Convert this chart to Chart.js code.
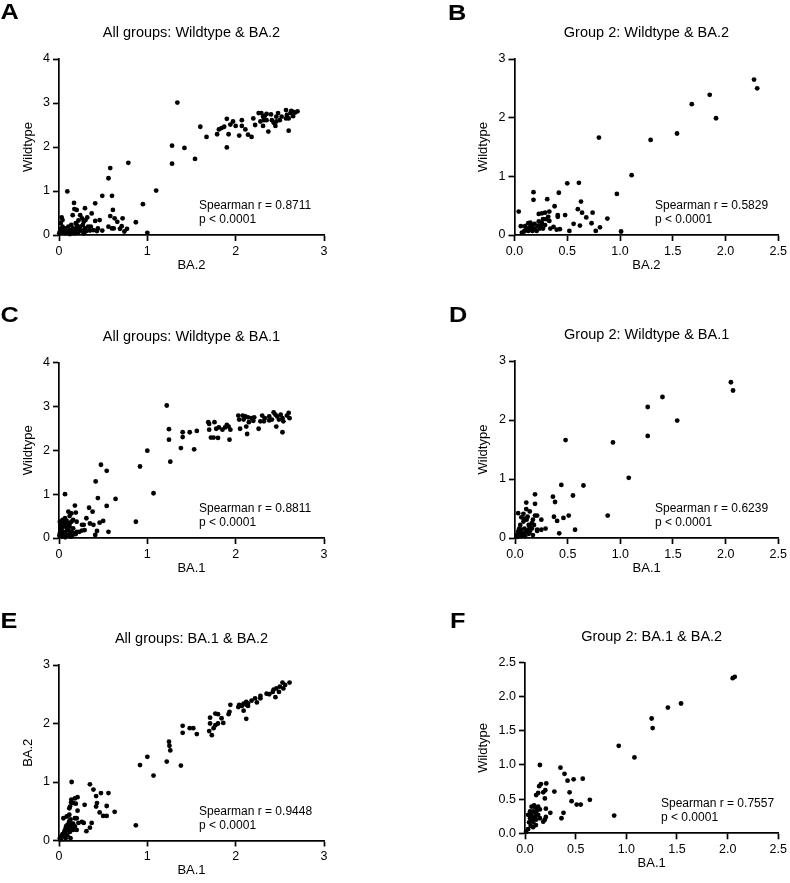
<!DOCTYPE html>
<html>
<head>
<meta charset="utf-8">
<script src="https://cdn.jsdelivr.net/npm/chart.js@4.4.1/dist/chart.umd.min.js"></script>
<style>
  body { margin: 0; background: #fff; }
  #wrap { position: relative; width: 790px; height: 883px; overflow: hidden; }
  #wrap canvas { position: absolute; }
</style>
</head>
<body>
<div id="wrap"></div>
<script>
// [x, y] pairs

// A: x = BA.2, y = Wildtype (all groups)
const allBa2Wt = [
  [1.34,3.01],[1.28,2.03],[1.28,1.62],[1.42,1.98],[1.54,1.73],[1.60,2.46],[1.67,2.23],[1.79,2.29],[1.81,2.40],[1.84,2.43],
  [1.87,2.46],[1.90,2.64],[1.90,1.99],[1.92,2.29],[1.94,2.51],[1.97,2.58],[2.00,2.48],[2.04,2.26],[2.07,2.61],[2.07,2.48],
  [2.11,2.40],[2.14,2.28],[2.18,2.23],[2.20,2.65],[2.22,2.50],[2.28,2.58],[2.29,2.77],[2.31,2.69],[2.33,2.71],[2.31,2.48],
  [2.35,2.61],[2.37,2.35],[2.40,2.74],[2.41,2.61],[2.35,2.75],[2.45,2.48],[2.46,2.69],[2.48,2.77],[2.50,2.61],[2.52,2.69],
  [2.57,2.84],[2.58,2.73],[2.60,2.37],[2.60,2.65],[2.62,2.77],[2.63,2.82],[2.65,2.70],[2.67,2.78],[2.70,2.81],[2.26,2.77],
  [2.43,2.55],[2.32,2.61],[2.57,2.65],[2.65,2.80],[2.46,2.58],
  [0.094,0.99],[0.17,0.73],[0.174,0.59],[0.20,0.57],[0.155,0.45],[0.03,0.40],[0.04,0.34],[0.02,0.27],[0.294,0.61],[0.24,0.45],
  [0.26,0.38],[0.28,0.30],[0.32,0.40],[0.30,0.34],[0.22,0.33],[0.19,0.27],[0.14,0.23],[0.106,0.19],[0.068,0.15],[0.05,0.11],
  [0.087,0.09],[0.13,0.11],[0.16,0.08],[0.20,0.14],[0.24,0.19],[0.26,0.10],[0.294,0.15],[0.31,0.09],[0.36,0.19],[0.37,0.49],
  [0.41,0.32],[0.41,0.72],[0.39,0.11],[0.43,0.09],[0.46,0.34],[0.49,0.10],[0.49,0.89],[0.011,0.08],[0.004,0.04],[0.03,0.05],
  [0.07,0.04],[0.12,0.02],[0.18,0.04],[0.22,0.06],[0.33,0.19],[0.35,0.10],[0.56,1.29],[0.58,1.52],[0.785,1.64],[0.60,0.89],
  [0.61,0.57],[0.58,0.43],[0.63,0.38],[0.66,0.30],[0.72,0.38],[0.71,0.20],[0.69,0.14],[0.62,0.15],[0.60,0.15],[0.56,0.19],
  [0.77,0.14],[0.74,0.08],[0.87,0.29],[0.95,0.70],[1.00,0.05],[1.10,1.01],[0.44,0.15],
  [0.02,0.14],[0.04,0.19],[0.06,0.08],[0.106,0.08],[0.14,0.04],[0.16,0.15],[0.20,0.23],[0.27,0.23],[0.23,0.11],[0.28,0.04],[0.18,0.09]
];

// B: x = BA.2, y = Wildtype (group 2)
const grp2Ba2Wt = [
  [2.27,2.65],[2.30,2.50],[1.85,2.39],[1.91,1.99],[1.68,2.23],[1.54,1.73],[1.29,1.62],[0.80,1.66],[1.11,1.02],[0.97,0.70],
  [1.01,0.06],[0.81,0.13],[0.88,0.28],[0.77,0.07],
  [0.04,0.40],[0.18,0.73],[0.18,0.60],[0.31,0.61],[0.42,0.72],[0.50,0.88],[0.61,0.89],[0.63,0.57],[0.60,0.44],[0.64,0.38],
  [0.74,0.38],[0.68,0.30],[0.73,0.20],[0.62,0.16],[0.56,0.19],[0.52,0.07],[0.48,0.34],[0.41,0.34],[0.41,0.31],[0.38,0.49],
  [0.33,0.40],[0.29,0.38],[0.26,0.37],[0.23,0.36],[0.32,0.31],[0.33,0.24],[0.30,0.27],[0.27,0.27],[0.29,0.17],[0.26,0.20],
  [0.23,0.23],[0.22,0.15],[0.19,0.11],[0.16,0.10],[0.15,0.14],[0.13,0.07],[0.12,0.11],[0.09,0.06],[0.07,0.04],[0.06,0.15],
  [0.10,0.15],[0.15,0.21],[0.17,0.17],[0.19,0.19],[0.24,0.11],[0.27,0.11],[0.34,0.11],[0.37,0.14],[0.40,0.09],[0.43,0.10],
  [0.21,0.07],[0.17,0.07],[0.25,0.16],[0.13,0.20],[0.10,0.08]
];

// C: x = BA.1, y = Wildtype (all groups)
const allBa1Wt = [
  [1.22,3.02],[1.245,2.48],[1.245,2.24],[1.26,1.74],[1.00,1.99],[0.917,1.63],[1.07,1.02],[0.87,0.37],[1.40,2.41],[1.40,2.30],
  [1.38,2.05],[1.48,2.41],[1.53,2.02],[1.56,2.44],[1.69,2.64],[1.70,2.60],[1.70,2.47],[1.72,2.29],[1.75,2.29],[1.76,2.64],
  [1.78,2.49],[1.80,2.28],[1.81,2.52],[1.85,2.47],[1.88,2.52],[1.90,2.58],[1.92,2.54],[1.93,2.24],[1.94,2.47],[2.03,2.79],
  [2.04,2.70],[2.05,2.49],[2.08,2.79],[2.09,2.70],[2.11,2.77],[2.12,2.54],[2.13,2.37],[2.14,2.75],[2.15,2.64],[2.18,2.73],
  [2.20,2.67],[2.21,2.75],[2.26,2.49],[2.28,2.66],[2.30,2.79],[2.33,2.73],[2.38,2.77],[2.41,2.70],[2.43,2.86],[2.45,2.81],
  [2.46,2.54],[2.47,2.77],[2.49,2.70],[2.51,2.81],[2.53,2.73],[2.53,2.41],[2.54,2.66],[2.58,2.79],[2.60,2.85],[2.61,2.73],
  [2.38,2.68],[2.32,2.66],
  [0.475,1.67],[0.54,1.53],[0.415,1.29],[0.068,1.00],[0.44,0.91],[0.54,0.73],[0.64,0.89],[0.34,0.69],[0.38,0.60],[0.18,0.74],
  [0.19,0.58],[0.106,0.60],[0.14,0.56],[0.12,0.50],[0.068,0.45],[0.04,0.41],[0.01,0.37],[0.087,0.39],[0.16,0.41],[0.20,0.37],
  [0.31,0.45],[0.35,0.33],[0.39,0.30],[0.46,0.35],[0.50,0.39],[0.56,0.14],[0.43,0.16],[0.41,0.07],[0.26,0.30],[0.28,0.30],
  [0.23,0.14],[0.26,0.17],[0.29,0.18],[0.20,0.14],[0.19,0.09],
  [0.02,0.30],[0.05,0.26],[0.09,0.22],[0.12,0.26],[0.03,0.18],[0.07,0.14],[0.11,0.17],[0.14,0.14],[0.01,0.11],[0.05,0.07],
  [0.09,0.05],[0.12,0.09],[0.15,0.05],[0.03,0.03],[0.004,0.05],[0.12,0.33],[0.06,0.35],[0.14,0.37],[0.16,0.22],[0.08,0.30],
  [0.02,0.22],[0.135,0.03],[0.07,0.015],[0.105,0.07],[0.04,0.12],[0.16,0.11]
];

// D: x = BA.1, y = Wildtype (group 2)
const grp2Ba1Wt = [
  [2.05,2.64],[2.07,2.50],[1.40,2.39],[1.54,1.99],[1.26,2.22],[1.26,1.73],[0.93,1.62],[0.48,1.66],[1.08,1.02],[0.88,0.38],
  [0.44,0.90],[0.65,0.89],[0.55,0.72],[0.36,0.70],[0.38,0.61],[0.37,0.36],[0.40,0.29],[0.46,0.34],[0.51,0.38],[0.57,0.14],
  [0.42,0.08],
  [0.19,0.74],[0.19,0.58],[0.107,0.60],[0.107,0.49],[0.14,0.45],[0.03,0.42],[0.08,0.41],[0.06,0.35],[0.19,0.38],[0.21,0.38],
  [0.25,0.31],[0.29,0.16],[0.21,0.14],[0.21,0.12],[0.25,0.14],[0.17,0.31],
  [0.05,0.22],[0.08,0.28],[0.11,0.31],[0.13,0.22],[0.14,0.19],[0.16,0.16],[0.09,0.16],[0.06,0.14],[0.03,0.11],[0.05,0.07],
  [0.08,0.08],[0.11,0.11],[0.14,0.11],[0.016,0.05],[0.06,0.03],[0.095,0.03],[0.13,0.07],[0.16,0.25],[0.17,0.05],[0.12,0.36],
  [0.09,0.33],[0.04,0.16],[0.13,0.14],[0.025,0.02],[0.18,0.22]
];

// E: x = BA.1, y = BA.2 (all groups)
const allBa1Ba2 = [
  [2.53,2.70],[2.56,2.66],[2.50,2.63],[2.54,2.60],[2.61,2.70],[2.46,2.60],[2.43,2.58],[2.49,2.54],[2.45,2.45],[2.42,2.54],
  [2.38,2.50],[2.35,2.51],[2.28,2.43],[2.22,2.43],[2.24,2.36],[2.28,2.47],[2.14,2.34],[2.12,2.37],[2.12,2.32],[2.14,2.30],
  [2.18,2.39],[2.04,2.32],[2.03,2.28],[2.07,2.30],[2.09,2.34],[2.09,2.22],[2.12,2.08],[1.94,2.32],[1.93,2.20],[1.92,2.16],
  [1.84,2.09],[1.86,2.01],[1.80,2.00],[1.77,1.97],[1.75,1.92],[1.80,2.16],[1.77,2.17],[1.71,2.10],[1.71,2.00],[1.70,1.87],
  [1.73,1.80],[1.56,1.82],[1.52,1.92],[1.48,1.92],[1.40,1.96],[1.40,1.84],[1.245,1.69],[1.25,1.62],[1.26,1.54],[1.22,1.35],
  [1.38,1.28],[1.00,1.43],[0.917,1.29],[1.07,1.11],[0.87,0.26],
  [0.143,1.00],[0.35,0.96],[0.39,0.87],[0.42,0.76],[0.475,0.81],[0.56,0.81],[0.63,0.49],[0.54,0.59],[0.43,0.64],[0.42,0.58],
  [0.46,0.48],[0.50,0.42],[0.54,0.42],[0.37,0.30],[0.35,0.22],[0.31,0.16],[0.26,0.32],[0.28,0.30],[0.22,0.30],[0.20,0.38],
  [0.21,0.51],[0.21,0.74],[0.18,0.72],[0.16,0.64],[0.14,0.70],[0.136,0.65],[0.19,0.63],[0.29,0.61],[0.125,0.58],[0.117,0.55],
  [0.18,0.24],[0.20,0.18],[0.15,0.21],[0.13,0.04],[0.117,0.44],[0.087,0.41],[0.05,0.38],
  [0.01,0.04],[0.03,0.08],[0.04,0.11],[0.06,0.15],[0.07,0.19],[0.08,0.24],[0.09,0.26],[0.11,0.30],[0.12,0.34],[0.13,0.36],
  [0.14,0.29],[0.125,0.26],[0.106,0.21],[0.087,0.17],[0.07,0.12],[0.05,0.07],[0.02,0.02],[0.14,0.24],[0.16,0.18],[0.125,0.15],
  [0.094,0.09],[0.075,0.04],[0.16,0.29],[0.18,0.38]
];

// F: x = BA.1, y = BA.2 (group 2; axis labelled Wildtype in the source)
const grp2Ba1Ba2 = [
  [2.05,2.27],[2.07,2.29],[1.54,1.90],[1.41,1.84],[1.25,1.68],[1.26,1.54],[0.925,1.28],[1.08,1.11],[0.88,0.26],[0.64,0.49],
  [0.57,0.80],[0.48,0.79],[0.42,0.77],[0.39,0.87],[0.35,0.96],[0.44,0.60],[0.46,0.47],[0.51,0.42],[0.55,0.42],[0.38,0.30],
  [0.36,0.22],[0.29,0.61],
  [0.147,1.00],[0.21,0.73],[0.157,0.72],[0.14,0.69],[0.20,0.63],[0.18,0.60],[0.13,0.59],[0.11,0.56],[0.196,0.51],[0.206,0.36],
  [0.206,0.24],[0.25,0.30],[0.196,0.20],[0.18,0.17],[0.147,0.22],[0.11,0.29],[0.09,0.41],[0.065,0.39],[0.13,0.39],[0.147,0.35],
  [0.05,0.32],[0.03,0.27],[0.065,0.27],[0.08,0.32],[0.10,0.24],[0.065,0.20],[0.04,0.16],[0.08,0.16],[0.11,0.20],[0.056,0.11],
  [0.08,0.09],[0.03,0.06],[0.01,0.02],[0.108,0.12],[0.13,0.27],[0.12,0.34],[0.075,0.22],[0.05,0.22],[0.10,0.38]
];

const panelLetters = ['A', 'B', 'C', 'D', 'E', 'F'];
const panelTitles = [
  'All groups: Wildtype & BA.2', 'Group 2: Wildtype & BA.2',
  'All groups: Wildtype & BA.1', 'Group 2: Wildtype & BA.1',
  'All groups: BA.1 & BA.2', 'Group 2: BA.1 & BA.2'
];
const xLabels = ['BA.2', 'BA.2', 'BA.1', 'BA.1', 'BA.1', 'BA.1'];
const yLabels = ['Wildtype', 'Wildtype', 'Wildtype', 'Wildtype', 'BA.2', 'Wildtype'];
const spearmanR = ['0.8711', '0.5829', '0.8811', '0.6239', '0.9448', '0.7557'];
const pValues = ['p < 0.0001', 'p < 0.0001', 'p < 0.0001', 'p < 0.0001', 'p < 0.0001', 'p < 0.0001'];
const panelData = [allBa2Wt, grp2Ba2Wt, allBa1Wt, grp2Ba1Wt, allBa1Ba2, grp2Ba1Ba2];
const xAxisMax = [3, 2.5, 3, 2.5, 3, 2.5];
const xAxisStep = [1, 0.5, 1, 0.5, 1, 0.5];
const yAxisMax = [4, 3, 4, 3, 3, 2.5];
const yAxisStep = [1, 1, 1, 1, 1, 0.5];

// page layout: plot area edges in page pixels
const layoutBoxes = [
  {x0: 0,   L: 59,    R: 324, T: 59,    B: 235,   yW: 38.8, letterX: 0.5, letterY: 18.5, statX: 199},
  {x0: 395, L: 514.5, R: 779, T: 59,    B: 235,   yW: 38.8, letterX: 448, letterY: 19.5, statX: 655},
  {x0: 0,   L: 59,    R: 324, T: 362.5, B: 538,   yW: 38.8, letterX: 0.5, letterY: 322,  statX: 199},
  {x0: 395, L: 515,   R: 779, T: 361,   B: 538,   yW: 39.8, letterX: 449, letterY: 322,  statX: 655},
  {x0: 0,   L: 59,    R: 324, T: 665,   B: 840.5, yW: 38.8, letterX: 0.5, letterY: 628,  statX: 199},
  {x0: 395, L: 525,   R: 780, T: 662.5, B: 833.3, yW: 49.8, letterX: 450, letterY: 628,  statX: 661}
];

Chart.defaults.font.family = "'Liberation Sans', Arial, Helvetica, sans-serif";
Chart.defaults.color = '#000';

// panel letter and the Spearman note
const panelText = {
  id: 'panelText',
  afterDraw(chart, args, opts) {
    const ctx = chart.ctx;
    const area = chart.chartArea;
    ctx.save();
    ctx.fillStyle = '#000';
    ctx.textBaseline = 'alphabetic';
    ctx.textAlign = 'left';
    ctx.font = "bold 22px 'Liberation Sans', Arial, sans-serif";
    ctx.save();
    ctx.translate(opts.letterX - opts.left, opts.letterY - opts.top);
    ctx.scale(1.15, 1);
    ctx.fillText(opts.letter, 0, 0);
    ctx.restore();
    ctx.font = "12px 'Liberation Sans', Arial, sans-serif";
    ctx.textBaseline = 'middle';
    const sx = opts.statX - opts.left;
    ctx.fillText('Spearman r = ' + opts.r, sx, area.bottom - 29.3);
    ctx.fillText(opts.p, sx, area.bottom - 15.3);
    ctx.restore();
  }
};

const wrap = document.getElementById('wrap');

panelData.forEach((points, i) => {
  const box = layoutBoxes[i];
  const top = Math.round(box.T) - 59;
  const height = Math.round(box.B) - top + 45;
  const width = 395;

  const canvas = document.createElement('canvas');
  canvas.width = width;
  canvas.height = height;
  canvas.style.left = box.x0 + 'px';
  canvas.style.top = top + 'px';
  canvas.style.width = width + 'px';
  canvas.style.height = height + 'px';
  wrap.appendChild(canvas);

  const xDec = xAxisStep[i] < 1 ? 1 : 0;
  const yDec = yAxisStep[i] < 1 ? 1 : 0;

  const axisGrid = {
    drawOnChartArea: false,
    drawTicks: true,
    tickLength: 6,
    tickWidth: 1.7,
    tickColor: '#000',
    color: '#000'
  };

  new Chart(canvas.getContext('2d'), {
    type: 'scatter',
    data: {
      datasets: [{
        data: points.map(p => ({x: p[0], y: p[1]})),
        pointRadius: 2.4,
        pointHoverRadius: 2.4,
        backgroundColor: '#000',
        borderColor: '#000',
        borderWidth: 0,
        clip: false
      }]
    },
    options: {
      responsive: false,
      animation: false,
      events: [],
      layout: {
        padding: {
          top: (box.T - top) - 34.7,
          left: box.L - box.x0 - box.yW,
          right: box.x0 + width - box.R,
          bottom: height - (box.B - top) - 40
        }
      },
      scales: {
        x: {
          type: 'linear',
          min: 0,
          max: xAxisMax[i],
          afterFit: s => { s.height = 40; },
          ticks: {
            stepSize: xAxisStep[i],
            padding: 3,
            color: '#000',
            font: {size: 12.5},
            callback: v => Number(v).toFixed(xDec)
          },
          grid: axisGrid,
          border: {display: true, color: '#000', width: 1.7},
          title: {
            display: true,
            text: xLabels[i],
            color: '#000',
            font: {size: 13},
            padding: {top: 0, bottom: 2.2}
          }
        },
        y: {
          type: 'linear',
          min: 0,
          max: yAxisMax[i],
          afterFit: s => { s.width = box.yW; },
          ticks: {
            stepSize: yAxisStep[i],
            padding: 3,
            color: '#000',
            font: {size: 12.5},
            callback: v => Number(v).toFixed(yDec)
          },
          grid: axisGrid,
          border: {display: true, color: '#000', width: 1.7},
          title: {
            display: true,
            text: yLabels[i],
            color: '#000',
            font: {size: 13},
            padding: {top: 0, bottom: 0}
          }
        }
      },
      plugins: {
        legend: {display: false},
        tooltip: {enabled: false},
        title: {
          display: true,
          text: panelTitles[i],
          fullSize: false,
          color: '#000',
          font: {size: 14.5, weight: 'normal'},
          padding: {top: 0, bottom: 17.3}
        },
        panelText: {
          letter: panelLetters[i],
          r: spearmanR[i],
          p: pValues[i],
          left: box.x0,
          top: top,
          letterX: box.letterX,
          letterY: box.letterY,
          statX: box.statX
        }
      }
    },
    plugins: [panelText]
  });
});
</script>
</body>
</html>
